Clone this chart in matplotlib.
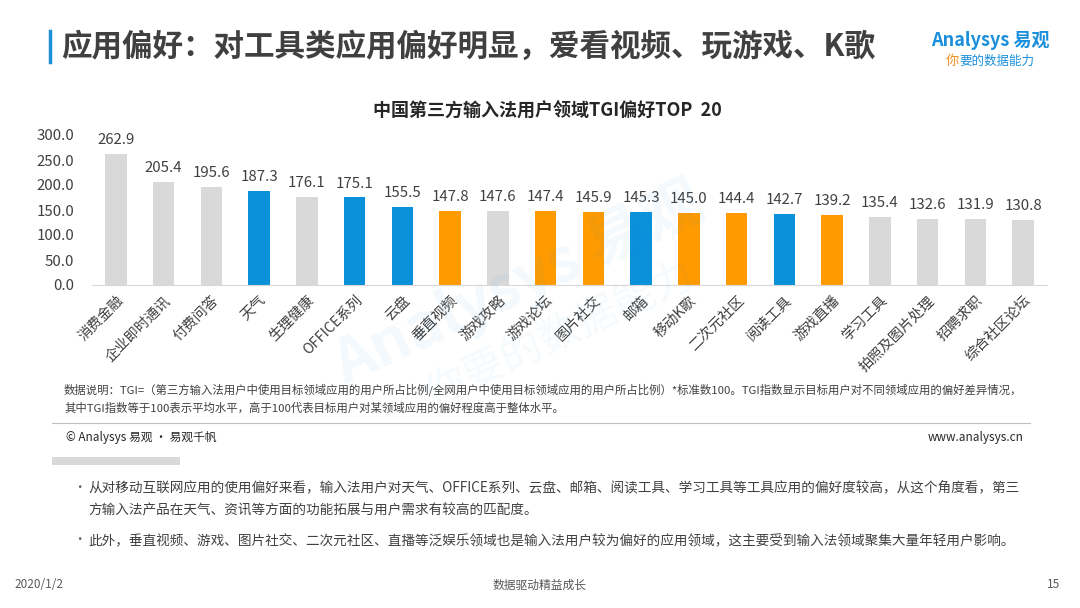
import matplotlib
matplotlib.use('Agg')
import matplotlib.pyplot as plt
from matplotlib.lines import Line2D
from matplotlib.patches import Rectangle

plt.rcParams['font.family'] = ['Noto Sans CJK SC', 'DejaVu Sans']

categories = ['消费金融', '企业即时通讯', '付费问答', '天气', '生理健康', 'OFFICE系列', '云盘',
              '垂直视频', '游戏攻略', '游戏论坛', '图片社交', '邮箱', '移动K歌', '二次元社区',
              '阅读工具', '游戏直播', '学习工具', '拍照及图片处理', '招聘求职', '综合社区论坛']
values = [262.9, 205.4, 195.6, 187.3, 176.1, 175.1, 155.5, 147.8, 147.6, 147.4,
          145.9, 145.3, 145.0, 144.4, 142.7, 139.2, 135.4, 132.6, 131.9, 130.8]
groups = ['other', 'other', 'other', 'tool', 'other', 'tool', 'tool', 'fun', 'other', 'fun',
          'fun', 'tool', 'fun', 'fun', 'tool', 'fun', 'other', 'other', 'other', 'other']
y_ticks = [0, 50, 100, 150, 200, 250, 300]

group_colors = {'other': '#D9D9D9', 'tool': '#0A91DA', 'fun': '#FF9A00'}

W, H = 1080, 608


def px(x, y):
    return x / W, 1 - y / H


fig = plt.figure(figsize=(10.8, 6.08), dpi=100)
fig.patch.set_facecolor('white')

# --- header ---
fig.add_artist(Line2D([50 / W, 50 / W], [1 - 31 / H, 1 - 62 / H], color='#1E90D8', lw=2.5))
fig.text(*px(61, 47), '应用偏好：对工具类应用偏好明显，爱看视频、玩游戏、K歌',
         fontsize=22, fontweight='bold', color='#404040', va='center', ha='left')
fig.text(*px(1050, 41), 'Analysys 易观', fontsize=13, color='#1A8FDC', fontweight='bold',
         va='center', ha='right', style='italic')
fig.text(*px(946, 61), '你', fontsize=9.5, color='#F08C1E', va='center', ha='left', style='italic')
fig.text(*px(959, 61), '要的数据能力', fontsize=9, color='#1A8FDC', va='center', ha='left', style='italic')

# --- chart ---
fig.text(*px(547, 111), '中国第三方输入法用户领域TGI偏好TOP  20', fontsize=13,
         fontweight='bold', color='#262626', ha='center', va='center')

ax = fig.add_axes([92 / W, 1 - 285 / H, (1047 - 92) / W, 150 / H])
x = range(len(categories))
colors = [group_colors[g] for g in groups]
bars = ax.bar(x, values, width=0.45, color=colors)
for b, v in zip(bars, values):
    ax.annotate(f'{v:.1f}', (b.get_x() + b.get_width() / 2, v), xytext=(0, 5),
                textcoords='offset points', ha='center', va='bottom',
                fontsize=10.8, color='#404040')

ax.set_xlim(-0.5, len(categories) - 0.5)
ax.set_ylim(0, 300)
ax.set_yticks(y_ticks)
ax.set_yticklabels([f'{t:.1f}' for t in y_ticks], fontsize=10.8, color='#404040')
ax.set_xticks(list(x))
ax.set_xticklabels(categories, rotation=45, ha='right', va='top',
                   rotation_mode='anchor', fontsize=10.3, color='#404040')
ax.tick_params(axis='both', length=0)
ax.tick_params(axis='y', pad=13)
ax.tick_params(axis='x', pad=6)
for s in ['top', 'right', 'left']:
    ax.spines[s].set_visible(False)
ax.spines['bottom'].set_color('#D9D9D9')
ax.set_facecolor('none')

# faint watermark
fig.text(*px(520, 285), 'Analysys 易观', fontsize=44, color='#1A8FDC', alpha=0.05,
         rotation=25, ha='center', va='center', fontweight='bold')
fig.text(*px(560, 335), '你要的数据能力', fontsize=30, color='#1A8FDC', alpha=0.045,
         rotation=25, ha='center', va='center', style='italic')

# --- notes ---
fig.text(*px(64, 390), '数据说明：TGI=（第三方输入法用户中使用目标领域应用的用户所占比例/全网用户中使用目标领域应用的用户所占比例）*标准数100。TGI指数显示目标用户对不同领域应用的偏好差异情况，',
         fontsize=8.2, color='#404040', va='center', ha='left')
fig.text(*px(64, 408), '其中TGI指数等于100表示平均水平，高于100代表目标用户对某领域应用的偏好程度高于整体水平。',
         fontsize=8.2, color='#404040', va='center', ha='left')
fig.add_artist(Line2D([52 / W, 1030 / W], [1 - 423 / H, 1 - 423 / H], color='#BFBFBF', lw=0.8))
fig.text(*px(66, 437), '© Analysys 易观 · 易观千帆', fontsize=8.5, color='#262626', va='center', ha='left')
fig.text(*px(1024, 437), 'www.analysys.cn', fontsize=8.5, color='#262626', va='center', ha='right')
fig.add_artist(Rectangle(px(52, 465), 128 / W, 8 / H, color='#D9D9D9', lw=0))

fig.text(*px(73, 488), '•', fontsize=9, color='#595959', va='center', ha='left')
fig.text(*px(88, 488), '从对移动互联网应用的使用偏好来看，输入法用户对天气、OFFICE系列、云盘、邮箱、阅读工具、学习工具等工具应用的偏好度较高，从这个角度看，第三',
         fontsize=9.8, color='#404040', va='center', ha='left')
fig.text(*px(88, 511), '方输入法产品在天气、资讯等方面的功能拓展与用户需求有较高的匹配度。',
         fontsize=9.8, color='#404040', va='center', ha='left')
fig.text(*px(73, 540), '•', fontsize=9, color='#595959', va='center', ha='left')
fig.text(*px(88, 540), '此外，垂直视频、游戏、图片社交、二次元社区、直播等泛娱乐领域也是输入法用户较为偏好的应用领域，这主要受到输入法领域聚集大量年轻用户影响。',
         fontsize=9.8, color='#404040', va='center', ha='left')

# --- footer ---
fig.text(*px(14, 585), '2020/1/2', fontsize=8.5, color='#595959', va='center', ha='left')
fig.text(*px(540, 585), '数据驱动精益成长', fontsize=8.5, color='#595959', va='center', ha='center')
fig.text(*px(1060, 585), '15', fontsize=8.5, color='#595959', va='center', ha='right')

fig.savefig('out.png', dpi=100)
